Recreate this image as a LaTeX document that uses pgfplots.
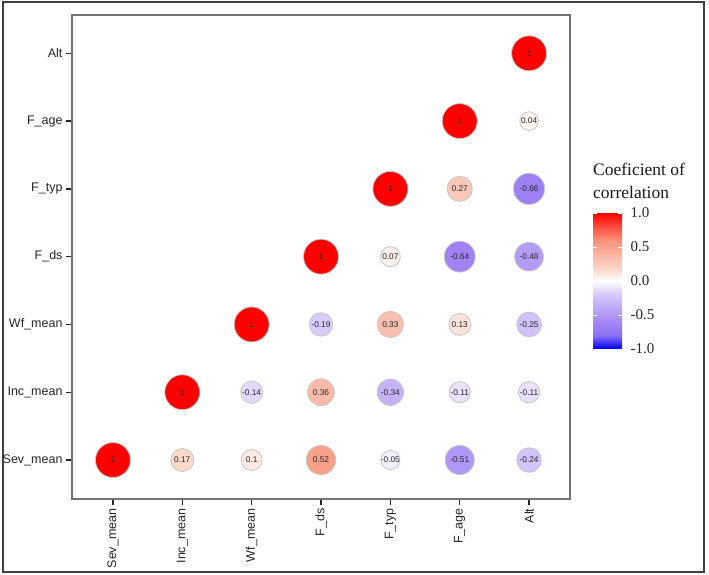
\documentclass[border=0pt]{standalone}
\usepackage{pgfplots}
\pgfplotsset{compat=1.18}
\usepackage{pgfplotstable}
\usepackage{fontspec}
\setmainfont{Liberation Serif}
\newfontfamily\sansf{Liberation Sans}

% Upper triangle of the correlation matrix (x, y = variable index)
\pgfplotstableread{
x y r
0 0 1
1 0 0.17
2 0 0.1
3 0 0.52
4 0 -0.05
5 0 -0.51
6 0 -0.24
1 1 1
2 1 -0.14
3 1 0.36
4 1 -0.34
5 1 -0.11
6 1 -0.11
2 2 1
3 2 -0.19
4 2 0.33
5 2 0.13
6 2 -0.25
3 3 1
4 3 0.07
5 3 -0.64
6 3 -0.48
4 4 1
5 4 0.27
6 4 -0.66
5 5 1
6 5 0.04
6 6 1
}\corrtable

\pgfplotsset{
  colormap={corr}{
    rgb255=(0,0,255)
    rgb255=(140,112,245)
    rgb255=(165,135,245)
    rgb255=(190,168,248)
    rgb255=(215,200,250)
    rgb255=(255,255,255)
    rgb255=(250,210,196)
    rgb255=(250,180,160)
    rgb255=(250,145,120)
    rgb255=(253,75,62)
    rgb255=(255,0,0)
  }
}

\begin{document}
\begin{tikzpicture}
\useasboundingbox (0,0) rectangle (709pt,574pt);
\begin{axis}[
  at={(72pt,75pt)}, anchor=south west,
  scale only axis, width=498pt, height=484pt,
  xmin=-0.59, xmax=6.59, ymin=-0.575, ymax=6.565,
  xtick={0,...,6}, ytick={0,...,6},
  xticklabels={Sev\_mean,Inc\_mean,Wf\_mean,F\_ds,F\_typ,F\_age,Alt},
  yticklabels={Sev\_mean,Inc\_mean,Wf\_mean,F\_ds,F\_typ,F\_age,Alt},
  xtick pos=lower, ytick pos=left,
  tick align=outside, major tick length=6pt,
  tick style={black!85, line width=1.3pt},
  axis line style={black!55, line width=1.3pt},
  x tick label style={rotate=90, anchor=east, font=\sansf\fontsize{12.5}{12.5}\selectfont, text=black!85},
  y tick label style={font=\sansf\fontsize{12.5}{12.5}\selectfont, text=black!85},
  colormap name=corr,
  point meta min=-1, point meta max=1,
  colorbar,
  colorbar/width=29pt,
  colorbar style={
    at={(1.0462,0.591)}, anchor=north west,
    height=136pt,
    ytick={-1,-0.5,0,0.5,1},
    yticklabels={-1.0,-0.5,0.0,0.5,1.0},
    yticklabel style={font=\fontsize{15}{15}\selectfont, text=black!85, xshift=5pt},
    major tick length=4pt,
    tick style={white, line width=0.8pt},
    axis line style={draw=none},
  },
]
% circles: colour from r, radius grows with |r| (meta is mapped onto [0,1000])
\addplot[
  scatter, only marks, mark=*,
  scatter src=explicit,
  scatter/@pre marker code/.code={%
    \pgfmathsetmacro\msize{7.25+10.25*sqrt(abs(\pgfplotspointmetatransformed/500-1))}%
    \pgfplotscolormapdefinemappedcolor{\pgfplotspointmetatransformed}%
    \scope[mark size=\msize pt, draw=black!22, fill=mapped color, line width=0.8pt]%
  },
  scatter/@post marker code/.code={\endscope},
] table[x=x, y=y, meta=r] {\corrtable};
% value labels
\addplot[
  only marks, mark=none,
  point meta=explicit,
  nodes near coords={\pgfmathprintnumber[assume math mode=true, fixed, precision=2]{\pgfplotspointmeta}},
  every node near coord/.style={anchor=center, inner sep=0pt, font=\sansf\fontsize{8.3}{8.3}\selectfont, text=black!85},
] table[x=x, y=y, meta=r] {\corrtable};
\end{axis}
\node[anchor=north west, align=left, inner sep=0pt,
      font=\fontsize{17.5}{23}\selectfont, text=black!90]
  at (593pt,411pt) {Coeficient of\\correlation};
\draw[black!75, line width=1.8pt] (3pt,2pt) rectangle (704pt,572pt);
\end{tikzpicture}
\end{document}
